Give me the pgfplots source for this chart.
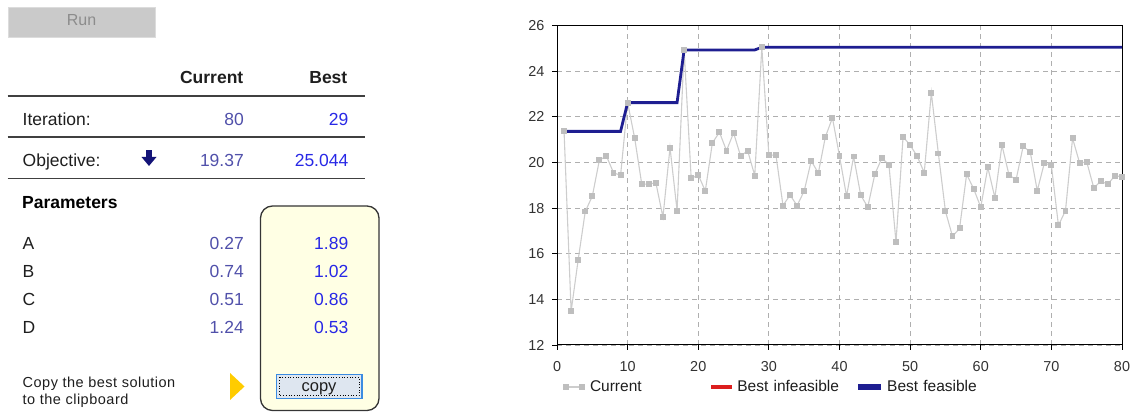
\documentclass[border=0pt]{standalone}
\usepackage{pgfplots}
\pgfplotsset{compat=1.18}
\usepackage{fontspec}
\setmainfont{Liberation Sans}
\definecolor{curval}{RGB}{80,80,170}
\definecolor{bestval}{RGB}{40,40,230}
\definecolor{labtext}{RGB}{30,30,30}
\definecolor{btngray}{RGB}{202,202,202}
\definecolor{btnborder}{RGB}{220,220,220}
\definecolor{rungray}{RGB}{140,140,140}
\definecolor{boxfill}{RGB}{255,255,228}
\definecolor{arrownavy}{RGB}{20,20,120}
\definecolor{triyellow}{RGB}{255,204,0}
\definecolor{copyfill}{RGB}{222,230,240}
\definecolor{copyblue}{RGB}{60,140,225}
\definecolor{gridgray}{RGB}{175,175,175}
\definecolor{tickgray}{RGB}{50,50,50}
\definecolor{curline}{RGB}{205,205,205}
\definecolor{curmark}{RGB}{190,190,190}
\definecolor{bestnavy}{RGB}{30,30,145}
\definecolor{infred}{RGB}{220,30,30}
\pgfplotsset{
  curleg/.style={legend image code/.code={\draw[##1, line width=1.2pt] plot coordinates {(2pt,0pt) (18pt,0pt)};}},
  redleg/.style={legend image code/.code={\fill[infred] (0pt,-1.4pt) rectangle (20pt,1.4pt);}},
  blueleg/.style={legend image code/.code={\fill[bestnavy] (0pt,-1.4pt) rectangle (20pt,1.4pt);}},
}
\begin{document}
\begin{tikzpicture}
\path[use as bounding box] (0,0) rectangle (1132pt,412pt);
\begin{scope}[shift={(0pt,412pt)},x=1pt,y=-1pt]
  % Run button
  \filldraw[fill=btngray, draw=btnborder, line width=0.8pt] (8,7) rectangle (155,37);
  \node[anchor=base, inner sep=0, text=rungray, font=\fontsize{16}{18}\selectfont] at (81.5,26) {Run};
  % header
  \node[anchor=base east, inner sep=0, text=labtext, font=\fontsize{17.5}{20}\selectfont\bfseries] at (243.5,84) {Current};
  \node[anchor=base east, inner sep=0, text=labtext, font=\fontsize{17.5}{20}\selectfont\bfseries] at (347.5,84) {Best};
  \draw[line width=1.1pt, color=labtext!85] (7.5,96) -- (365,96);
  % iteration
  \node[anchor=base west, inner sep=0, text=labtext, font=\fontsize{17.5}{20}\selectfont] at (22.5,125.5) {Iteration:};
  \node[anchor=base east, inner sep=0, text=curval, font=\fontsize{17.5}{20}\selectfont] at (244,125.5) {80};
  \node[anchor=base east, inner sep=0, text=bestval, font=\fontsize{17.5}{20}\selectfont] at (348.5,125.5) {29};
  \draw[line width=1.1pt, color=labtext!85] (7.5,137) -- (365,137);
  % objective
  \node[anchor=base west, inner sep=0, text=labtext, font=\fontsize{17.5}{20}\selectfont] at (22.5,167) {Objective:};
  \fill[arrownavy] (146,150) rectangle (152,158);
  \fill[arrownavy] (141.5,157) -- (156.5,157) -- (149,166) -- cycle;
  \node[anchor=base east, inner sep=0, text=curval, font=\fontsize{17.5}{20}\selectfont] at (244,167) {19.37};
  \node[anchor=base east, inner sep=0, text=bestval, font=\fontsize{17.5}{20}\selectfont] at (348.5,167) {25.044};
  \draw[line width=1.1pt, color=labtext!85] (7.5,178.5) -- (365,178.5);
  % parameters
  \node[anchor=base west, inner sep=0, text=black, font=\fontsize{17.5}{20}\selectfont\bfseries] at (22,208.5) {Parameters};
  \filldraw[fill=boxfill, draw=labtext!90, line width=1.3pt, rounded corners=12pt] (260.5,206) rectangle (379,410.5);
  \foreach \lab/\cv/\bv/\yy in {A/0.27/1.89/250, B/0.74/1.02/278, C/0.51/0.86/306, D/1.24/0.53/334}{
    \node[anchor=base west, inner sep=0, text=labtext, font=\fontsize{17.5}{20}\selectfont] at (22.5,\yy) {\lab};
    \node[anchor=base east, inner sep=0, text=curval, font=\fontsize{17.5}{20}\selectfont] at (244,\yy) {\cv};
    \node[anchor=base east, inner sep=0, text=bestval, font=\fontsize{17.5}{20}\selectfont] at (348.5,\yy) {\bv};
  }
  % copy
  \node[anchor=base west, inner sep=0, text=labtext, font=\fontsize{14.5}{16}\selectfont\addfontfeatures{LetterSpace=3.5}] at (22.5,387.5) {Copy the best solution};
  \node[anchor=base west, inner sep=0, text=labtext, font=\fontsize{14.5}{16}\selectfont\addfontfeatures{LetterSpace=3.5}] at (22.5,405) {to the clipboard};
  \fill[triyellow] (230,373) -- (244.5,386.5) -- (230,400) -- cycle;
  \filldraw[fill=copyfill, draw=copyblue, line width=1.6pt] (276.5,374.5) rectangle (362,398.5);
  \draw[black, line width=0.7pt, dotted] (279.5,377.5) rectangle (359,395.5);
  \node[anchor=base, inner sep=0, text=labtext, font=\fontsize{16.5}{18}\selectfont] at (319,392) {copy};
\end{scope}
\begin{axis}[
  at={(557pt,67pt)}, anchor=south west,
  scale only axis, width=565pt, height=319.5pt,
  xmin=0, xmax=80, ymin=12, ymax=26,
  xtick={0,10,...,80}, ytick={12,14,...,26},
  grid=major,
  major grid style={dash pattern=on 5pt off 4pt, color=gridgray, line width=0.8pt},
  axis line style={black, line width=1pt},
  tick align=outside, tick pos=left, major tick length=5pt,
  tick style={black, line width=0.8pt},
  ticklabel style={font=\fontsize{14.4}{16}\selectfont, text=tickgray},
  xticklabel style={yshift=-8pt},
  yticklabel style={xshift=-4pt},
  /pgf/number format/assume math mode=true,
  clip=false,
  legend columns=3, legend cell align=left,
  legend style={at={(axis description cs:0.0106,-0.1315)}, anchor=west,
    draw=none, fill=none, inner sep=0pt,
    font=\fontsize{15.5}{18}\selectfont, text=labtext,
    nodes={inner sep=1pt},
    /tikz/every even column/.append style={text width=120pt},
    /tikz/every odd column/.append style={column sep=5pt}},
]
\addplot[color=curline, line width=1.1pt, mark=square*, mark size=2.4pt,
  mark options={draw=curmark, fill=curmark}, curleg]
coordinates {
(1,21.36) (2,13.48) (3,15.74) (4,17.85) (5,18.52) (6,20.10) (7,20.28) (8,19.55) (9,19.43) (10,22.62)
(11,21.06) (12,19.05) (13,19.05) (14,19.11) (15,17.60) (16,20.65) (17,17.89) (18,24.93) (19,19.30) (20,19.45)
(21,18.75) (22,20.86) (23,21.32) (24,20.52) (25,21.29) (26,20.28) (27,20.51) (28,19.42) (29,25.04) (30,20.32)
(31,20.32) (32,18.11) (33,18.57) (34,18.11) (35,18.75) (36,20.07) (37,19.53) (38,21.12) (39,21.95) (40,20.28)
(41,18.52) (42,20.26) (43,18.57) (44,18.04) (45,19.48) (46,20.19) (47,19.90) (48,16.51) (49,21.12) (50,20.76)
(51,20.27) (52,19.55) (53,23.05) (54,20.39) (55,17.86) (56,16.76) (57,17.11) (58,19.48) (59,18.84) (60,18.04)
(61,19.78) (62,18.46) (63,20.76) (64,19.45) (65,19.24) (66,20.70) (67,20.47) (68,18.76) (69,19.97) (70,19.87)
(71,17.24) (72,17.89) (73,21.06) (74,19.97) (75,20.03) (76,18.89) (77,19.17) (78,19.05) (79,19.42) (80,19.37)
};
\addlegendentry{Current}
\addlegendimage{color=infred, redleg}
\addlegendentry{Best infeasible}
\addplot[color=bestnavy, line width=2.8pt, mark=none, blueleg]
coordinates {
(1,21.36) (9,21.36) (10,22.62) (17,22.62) (18,24.93) (28,24.93) (29,25.044) (80,25.044)
};
\addlegendentry{Best feasible}
\end{axis}
\end{tikzpicture}
\end{document}
